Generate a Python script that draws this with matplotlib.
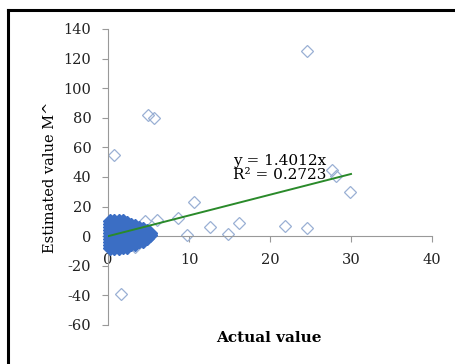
import matplotlib
matplotlib.use("Agg")
import matplotlib.pyplot as plt
from matplotlib.lines import Line2D

# scattered points (actual, estimated)
out_x = [0.7, 4.9, 5.7, 24.6, 1.6, 10.6, 8.7, 4.6, 6.0, 12.6, 9.7, 14.8, 16.2,
         3.3, 21.8, 24.6, 29.9, 27.6, 28.2]
out_y = [55, 82, 80, 125, -39, 23, 12, 10, 11, 6, 0.5, 1.3, 9,
         -7, 7, 5.4, 30, 45, 41]

# dense cluster near the origin
blob_x = [0.3, 0.8, 1.3, 1.8, 2.3,
          0.3, 0.8, 1.3, 1.8, 2.3, 2.8, 3.3,
          0.3, 0.8, 1.3, 1.8, 2.3, 2.8, 3.3, 3.8, 4.3,
          0.3, 0.8, 1.3, 1.8, 2.3, 2.8, 3.3, 3.8, 4.3, 4.8,
          0.3, 0.8, 1.3, 1.8, 2.3, 2.8, 3.3, 3.8, 4.3, 4.8, 5.2,
          0.3, 0.8, 1.3, 1.8, 2.3, 2.8, 3.3, 3.8, 4.3, 4.8, 5.2,
          0.3, 0.8, 1.3, 1.8, 2.3, 2.8, 3.3, 3.8, 4.3, 4.8,
          0.3, 0.8, 1.3, 1.8, 2.3, 2.8, 3.3, 3.8, 4.3,
          0.3, 0.8, 1.3, 1.8, 2.3, 2.8, 3.3,
          0.3, 0.8, 1.3, 1.8, 2.3]
blob_y = [10, 10, 10, 10, 9,
          8, 8, 8, 8, 8, 7.5, 7,
          6, 6, 6, 6, 6, 6, 6, 5.5, 5,
          4, 4, 4, 4, 4, 4, 4, 4, 4, 3.5,
          2, 2, 2, 2, 2, 2, 2, 2, 2, 2, 2,
          0, 0, 0, 0, 0, 0, 0, 0, 0, 0, 0.5,
          -2, -2, -2, -2, -2, -2, -2, -2, -2, -1.5,
          -4, -4, -4, -4, -4, -4, -4, -3.5, -3,
          -6, -6, -6, -6, -6, -5.5, -5,
          -8, -8, -8, -7.5, -7]

slope = 1.4012
r2 = 0.2723
trend_x = [0, 30]
trend_y = [slope * v for v in trend_x]

x_ticks = [0, 10, 20, 30, 40]
y_ticks = [-60, -40, -20, 0, 20, 40, 60, 80, 100, 120, 140]

plt.rcParams['font.family'] = 'DejaVu Serif'

fig = plt.figure(figsize=(4.56, 3.64), dpi=100)
ax = fig.add_axes([108/456, 1-325/364, 324/456, 296/364])

ax.plot(out_x, out_y, 'D', ms=6, mfc='none', mec='#9ab0d4', mew=0.9, zorder=2)
ax.plot(blob_x, blob_y, 'D', ms=7, mfc='#3b6ec4', mec='#3b6ec4', mew=1,
        zorder=3, clip_on=False)
ax.plot(trend_x, trend_y, color='#2a8a2a', lw=1.4, zorder=4)

ax.text(15.4, 46, 'y = %.4fx\nR² = %.4f' % (slope, r2), fontsize=11,
        va='center', linespacing=0.95, zorder=5)

ax.set_xlim(0, 40)
ax.set_ylim(-60, 140)
ax.set_xticks(x_ticks)
ax.set_yticks(y_ticks)
ax.set_xticklabels([str(v) for v in x_ticks])
ax.set_yticklabels([str(v) for v in y_ticks])

for s in ['top', 'right']:
    ax.spines[s].set_visible(False)
ax.spines['bottom'].set_position(('data', 0))
ax.spines['left'].set_color('#999999')
ax.spines['bottom'].set_color('#999999')
ax.tick_params(axis='both', colors='#999999', labelcolor='#222222',
               labelsize=10.5, length=4, direction='out')
ax.tick_params(axis='y', pad=8)
ax.tick_params(axis='x', pad=8)

ax.set_ylabel('Estimated value M^', fontsize=10.5, labelpad=5)
fig.text(269/456, 1-338/364, 'Actual value', fontsize=11, fontweight='bold',
         ha='center', va='center')

# black frame (left and top only visible)
fig.add_artist(Line2D([8/456, 8/456], [0, 1-10/364], color='black', lw=2.2,
                      transform=fig.transFigure))
fig.add_artist(Line2D([8/456, 1], [1-10/364, 1-10/364], color='black', lw=2.2,
                      transform=fig.transFigure))

fig.savefig('out.png', dpi=100)
